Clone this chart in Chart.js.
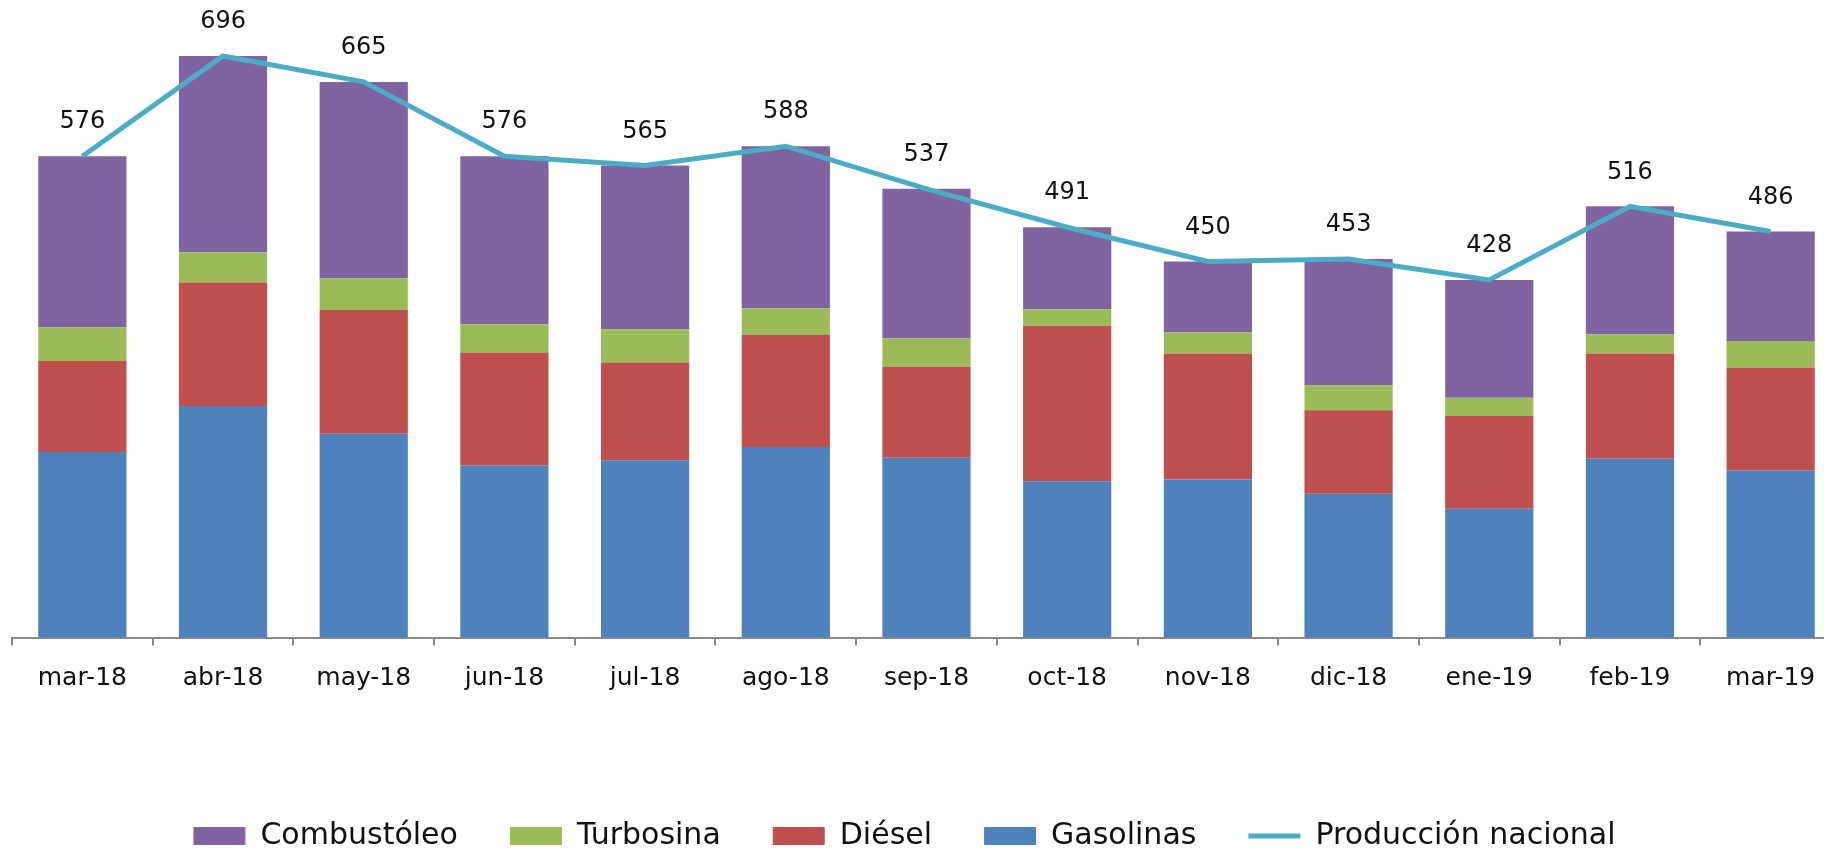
<!DOCTYPE html>
<html lang="es">
<head>
<meta charset="utf-8">
<title>Producción nacional de petrolíferos</title>
<script src="https://cdn.jsdelivr.net/npm/chart.js@4.4.1/dist/chart.umd.min.js"></script>
<style>
    html, body { margin: 0; padding: 0; background: #fff; overflow: hidden; }
    #wrap { position: relative; width: 1824px; height: 852px; overflow: hidden; }
    canvas { position: absolute; left: 0; top: 0; }
</style>
</head>
<body>
<div id="wrap"><canvas id="chart" width="1842" height="870"></canvas></div>
<script>
// meses
const meses = ['mar-18', 'abr-18', 'may-18', 'jun-18', 'jul-18', 'ago-18', 'sep-18',
               'oct-18', 'nov-18', 'dic-18', 'ene-19', 'feb-19', 'mar-19'];

// valores (mbd)
const gasolinas   = [222, 277, 244, 206, 212, 228, 215, 187, 189, 172, 154, 214, 200];
const diesel      = [109, 148, 148, 135, 117, 134, 109, 186, 151, 100, 111, 126, 123];
const turbosina   = [ 40,  36,  38,  34,  40,  32,  34,  20,  25,  30,  22,  23,  32];
const combustoleo = [205, 235, 235, 201, 196, 194, 179,  98,  85, 151, 141, 153, 131];
const produccion  = [576, 696, 665, 576, 565, 588, 537, 491, 450, 453, 428, 516, 486];

// orden de la leyenda (índices de datasets)
const ordenLeyenda = [3, 2, 1, 0, 4];

const FUENTE = '"DejaVu Sans", sans-serif';

// etiquetas de valor sobre la línea
const etiquetas = {
    id: 'etiquetas',
    afterDatasetsDraw(chart) {
        const meta = chart.getDatasetMeta(4);
        const ctx = chart.ctx;
        ctx.save();
        ctx.font = '24px ' + FUENTE;
        ctx.fillStyle = '#111';
        ctx.textAlign = 'center';
        ctx.textBaseline = 'middle';
        meta.data.forEach((pt, i) => ctx.fillText(String(produccion[i]), pt.x, pt.y - 34));
        ctx.restore();
    }
};

// mover la leyenda un poco a la izquierda
const moverLeyenda = {
    id: 'moverLeyenda',
    afterLayout(chart) {
        if (chart.legend) {
            chart.legend.left -= 22;
            chart.legend.right -= 22;
        }
    }
};

const barra = (label, data, color) => ({
    label: label,
    data: data,
    backgroundColor: color,
    borderWidth: 0,
    stack: 'combustibles',
    order: 1,
    categoryPercentage: 1,
    barPercentage: 0.627
});

new Chart(document.getElementById('chart'), {
    type: 'bar',
    data: {
        labels: meses,
        datasets: [
            barra('Gasolinas', gasolinas, '#4F81BD'),
            barra('Diésel', diesel, '#C0504D'),
            barra('Turbosina', turbosina, '#9BBB59'),
            barra('Combustóleo', combustoleo, '#8064A2'),
            {
                type: 'line',
                label: 'Producción nacional',
                data: produccion,
                borderColor: '#4BACC6',
                backgroundColor: '#4BACC6',
                borderWidth: 5,
                pointRadius: 0,
                tension: 0,
                stack: 'total',
                order: 0
            }
        ]
    },
    options: {
        responsive: false,
        animation: false,
        layout: { padding: { left: 12, right: 1, top: 2.5, bottom: 9 } },
        plugins: {
            tooltip: { enabled: false },
            legend: {
                position: 'bottom',
                labels: {
                    usePointStyle: true,
                    pointStyleWidth: 52,
                    boxHeight: 18,
                    padding: 52,
                    color: '#111',
                    font: { family: FUENTE, size: 30 },
                    generateLabels: chart => ordenLeyenda.map(i => {
                        const ds = chart.data.datasets[i];
                        const esLinea = ds.type === 'line';
                        return {
                            text: ds.label,
                            fillStyle: ds.backgroundColor,
                            strokeStyle: ds.borderColor || ds.backgroundColor,
                            lineWidth: esLinea ? 5 : 0,
                            pointStyle: esLinea ? 'line' : 'rect',
                            fontColor: '#111',
                            hidden: false,
                            datasetIndex: i
                        };
                    })
                }
            }
        },
        scales: {
            x: {
                stacked: true,
                afterFit: s => { s.height = 131.5; },
                grid: {
                    drawOnChartArea: false,
                    drawTicks: true,
                    tickLength: 8,
                    color: '#898989',
                    lineWidth: 2
                },
                border: { display: true, color: '#898989', width: 2 },
                ticks: {
                    color: '#111',
                    padding: 18,
                    maxRotation: 0,
                    autoSkip: false,
                    font: { family: FUENTE, size: 25 }
                }
            },
            y: {
                display: false,
                stacked: true,
                min: 0,
                max: 760
            }
        }
    },
    plugins: [etiquetas, moverLeyenda]
});
</script>
</body>
</html>
